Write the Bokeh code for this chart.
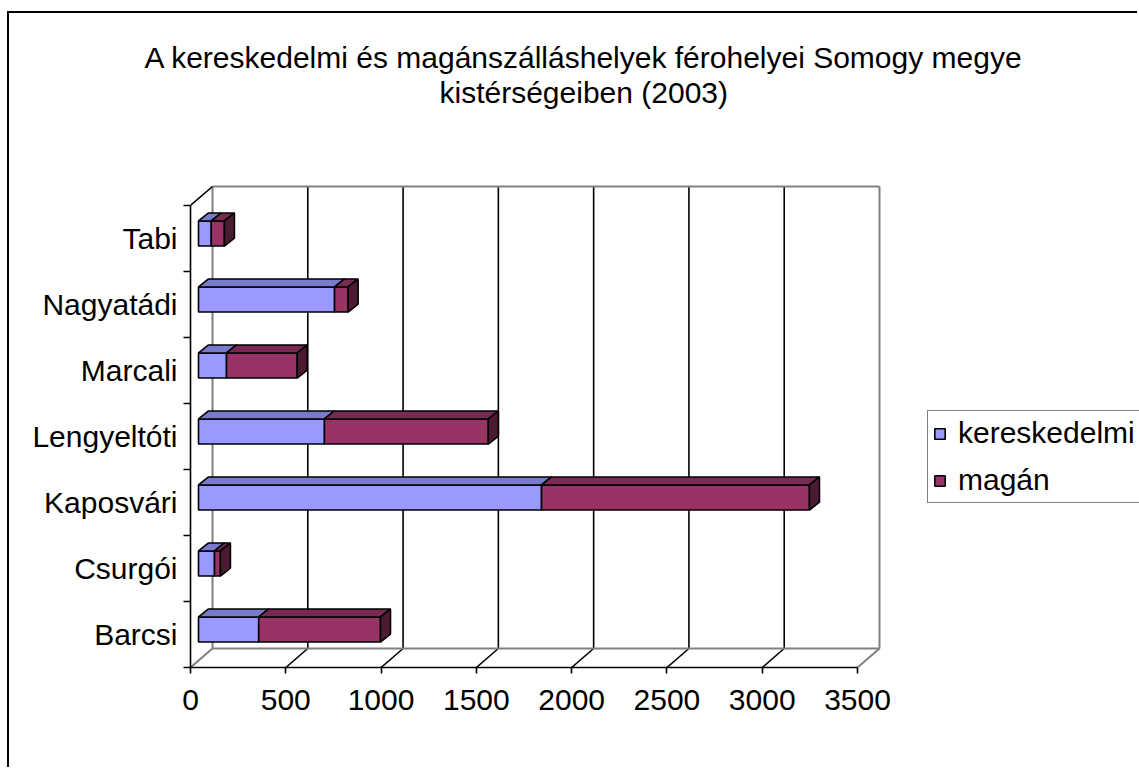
from bokeh.plotting import figure
from bokeh.models import (Range1d, FixedTicker, Legend, LegendItem, ColumnDataSource, Title)
from bokeh.embed import file_html
from bokeh.resources import INLINE

# ---------------- data ----------------
categories = ["Barcsi", "Csurgói", "Kaposvári", "Lengyeltóti", "Marcali", "Nagyatádi", "Tabi"]
kereskedelmi = [316, 84, 1800, 661, 147, 714, 67]
magan = [639, 31, 1406, 860, 371, 71, 69]
series_names = ["kereskedelmi", "magán"]
x_ticks = [0, 500, 1000, 1500, 2000, 2500, 3000, 3500]
title_lines = ["A kereskedelmi és magánszálláshelyek férohelyei Somogy megye",
               "kistérségeiben (2003)"]

# ---------------- styling / layout ----------------
FONT = "Liberation Sans"
FS = "30px"
W, H = 1130, 756
LEFT, BOTTOM, TOP = 181, 102, 95
PX_PER_X = 667 / 3500.0
PX_PER_Y = 66.0
WALL_DX, WALL_DY = 22, 19
BAR_FX, BAR_FY = 8, 5
BAR_BX, BAR_BY = 10, 8
BAR_H = 0.19
K_FRONT, K_TOP = "#9999FF", "#7A7ACC"
M_FRONT, M_TOP, M_SIDE = "#993366", "#7A2952", "#4D1A33"
GRAY = "#808080"

XMAX = x_ticks[-1]
NCAT = len(categories)


def ox(px):
    return px / PX_PER_X


def oy(px):
    return px / PX_PER_Y


p = figure(width=W, height=H,
           x_range=Range1d(0, (W - LEFT) / PX_PER_X),
           y_range=Range1d(0, (H - BOTTOM - TOP) / PX_PER_Y),
           output_backend="svg", toolbar_location=None,
           min_border_left=LEFT, min_border_bottom=BOTTOM,
           min_border_top=TOP, min_border_right=0)
p.styles = {"position": "relative", "left": "9px", "top": "13px",
            "box-shadow": "-2px -2px 0 0 #000000"}
p.outline_line_color = None
p.background_fill_color = "white"
p.border_fill_color = "white"
p.xgrid.visible = False
p.ygrid.visible = False
p.title.visible = False

# title lines (left aligned with offsets so both lines share the same centre)
p.add_layout(Title(text=title_lines[1], align="left", offset=249, standoff=0,
                   text_font=FONT, text_font_size=FS, text_font_style="normal",
                   text_color="black"), "above")
p.add_layout(Title(text=title_lines[0], align="left", offset=-46, standoff=0,
                   text_font=FONT, text_font_size=FS, text_font_style="normal",
                   text_color="black"), "above")

# ---------------- walls & gridlines ----------------
bx, by = ox(WALL_DX), oy(WALL_DY)
grid_x = [t for t in x_ticks if 0 < t < XMAX]
p.segment(x0=[t + bx for t in grid_x], y0=[by] * len(grid_x),
          x1=[t + bx for t in grid_x], y1=[NCAT + by] * len(grid_x),
          line_color="black", line_width=1.6)
p.segment(x0=grid_x, y0=[0] * len(grid_x),
          x1=[t + bx for t in grid_x], y1=[by] * len(grid_x),
          line_color="black", line_width=1.6)
edge_x0 = [0 + bx, 0 + bx, XMAX + bx, 0 + bx, 0, XMAX]
edge_y0 = [by, NCAT + by, by, by, 0, 0]
edge_x1 = [0 + bx, XMAX + bx, XMAX + bx, XMAX + bx, bx, XMAX + bx]
edge_y1 = [NCAT + by, NCAT + by, NCAT + by, by, by, by]
p.segment(x0=edge_x0, y0=edge_y0, x1=edge_x1, y1=edge_y1,
          line_color=GRAY, line_width=2)
p.segment(x0=[0], y0=[NCAT], x1=[bx], y1=[NCAT + by],
          line_color="black", line_width=1.6)

# ---------------- 3D bars ----------------
fx, fy = ox(BAR_FX), oy(BAR_FY)
dx, dy = ox(BAR_BX), oy(BAR_BY)


def front(x0, x1, c):
    return ([x0 + fx, x1 + fx, x1 + fx, x0 + fx],
            [c - BAR_H + fy, c - BAR_H + fy, c + BAR_H + fy, c + BAR_H + fy])


def top(x0, x1, c):
    yb = c + BAR_H + fy
    return ([x0 + fx, x1 + fx, x1 + fx + dx, x0 + fx + dx],
            [yb, yb, yb + dy, yb + dy])


def side(x1, c):
    return ([x1 + fx, x1 + fx + dx, x1 + fx + dx, x1 + fx],
            [c - BAR_H + fy, c - BAR_H + fy + dy, c + BAR_H + fy + dy, c + BAR_H + fy])


def build(faces):
    return ColumnDataSource(dict(xs=[f[0] for f in faces], ys=[f[1] for f in faces]))


centers = [i + 0.5 for i in range(NCAT)]
ends_k = kereskedelmi
ends_m = [k + m for k, m in zip(kereskedelmi, magan)]

src_kf = build([front(0, k, c) for k, c in zip(ends_k, centers)])
src_kt = build([top(0, k, c) for k, c in zip(ends_k, centers)])
src_mf = build([front(k, e, c) for k, e, c in zip(ends_k, ends_m, centers)])
src_mt = build([top(k, e, c) for k, e, c in zip(ends_k, ends_m, centers)])
src_ms = build([side(e, c) for e, c in zip(ends_m, centers)])

LW = 1.6
r_kf = p.patches("xs", "ys", source=src_kf, fill_color=K_FRONT, line_color="black", line_width=LW)
p.patches("xs", "ys", source=src_kt, fill_color=K_TOP, line_color="black", line_width=LW)
r_mf = p.patches("xs", "ys", source=src_mf, fill_color=M_FRONT, line_color="black", line_width=LW)
p.patches("xs", "ys", source=src_mt, fill_color=M_TOP, line_color="black", line_width=LW)
p.patches("xs", "ys", source=src_ms, fill_color=M_SIDE, line_color="black", line_width=LW)

# ---------------- axes ----------------
xa = p.xaxis[0]
xa.ticker = FixedTicker(ticks=x_ticks)
xa.bounds = (0, XMAX)
xa.axis_line_color = "black"
xa.axis_line_width = 1.6
xa.major_tick_out = 6
xa.major_tick_in = 0
xa.major_tick_line_width = 1.6
xa.minor_tick_out = 0
xa.minor_tick_in = 0
xa.major_label_text_font = FONT
xa.major_label_text_font_size = FS
xa.major_label_text_color = "black"
xa.major_label_standoff = 16

ya = p.yaxis[0]
ya.ticker = FixedTicker(ticks=centers, minor_ticks=list(range(NCAT + 1)))
ya.major_label_overrides = {c: name for c, name in zip(centers, categories)}
ya.bounds = (0, NCAT)
ya.axis_line_color = "black"
ya.axis_line_width = 1.6
ya.major_tick_out = 0
ya.major_tick_in = 0
ya.minor_tick_out = 7
ya.minor_tick_in = 0
ya.minor_tick_line_color = "black"
ya.minor_tick_line_width = 1.6
ya.major_label_text_font = FONT
ya.major_label_text_font_size = FS
ya.major_label_text_color = "black"
ya.major_label_standoff = 6

# ---------------- legend ----------------
legend = Legend(items=[LegendItem(label=series_names[0], renderers=[r_kf]),
                       LegendItem(label=series_names[1], renderers=[r_mf])],
                location=(737, 164), orientation="vertical")
legend.label_text_font = FONT
legend.label_text_font_size = FS
legend.label_text_color = "black"
legend.glyph_width = 13
legend.glyph_height = 13
legend.label_standoff = 12
legend.padding = 5
legend.spacing = 13
legend.margin = 0
legend.border_line_color = "black"
legend.border_line_width = 1.5
legend.background_fill_color = "white"
legend.background_fill_alpha = 1.0
p.add_layout(legend)

open("out.html", "w").write(file_html(p, INLINE))
